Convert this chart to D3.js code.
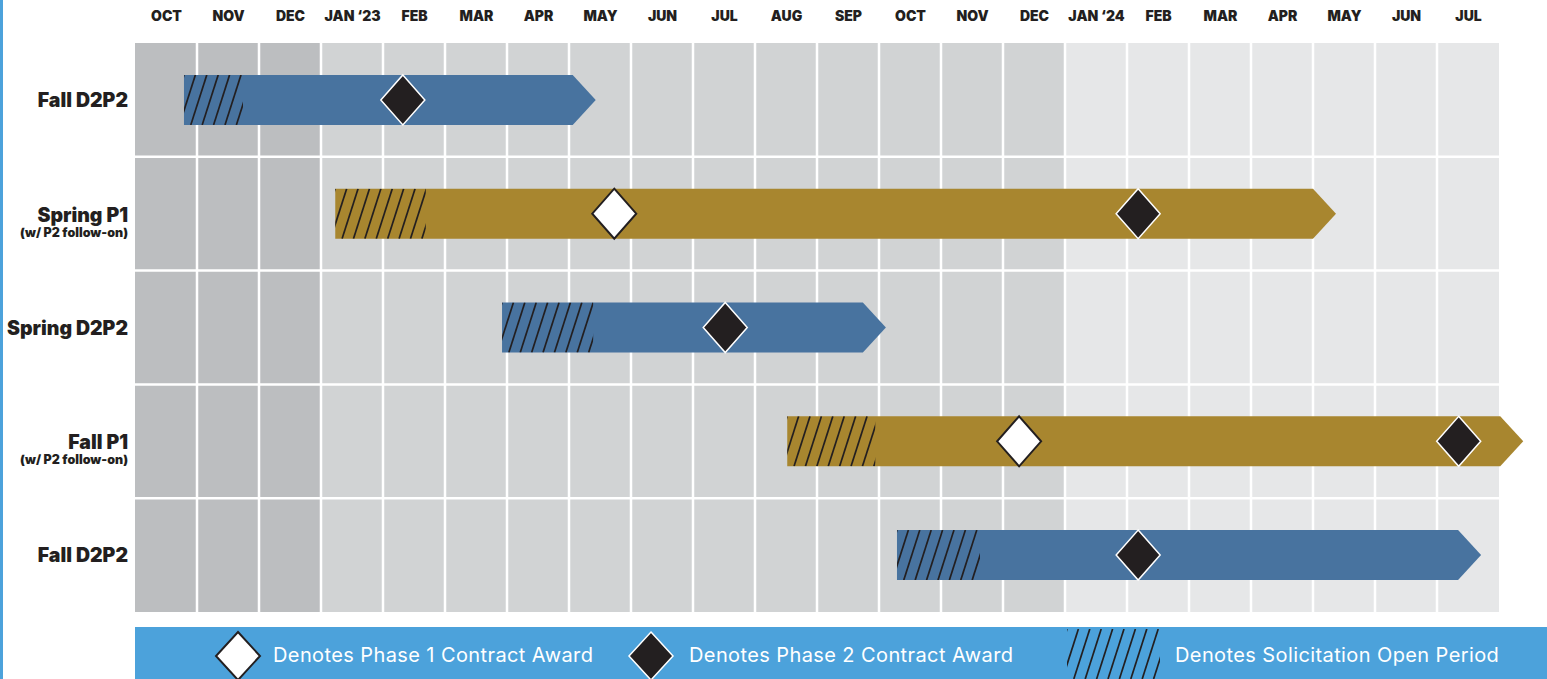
<!DOCTYPE html>
<html>
<head>
<meta charset="utf-8">
<script src="https://cdn.jsdelivr.net/npm/d3@7"></script>
<style>
  html, body { margin: 0; padding: 0; background: #fff; }
  svg { display: block; }
  .month text { font-family: Inter, "DejaVu Sans", sans-serif; font-weight: 900; font-size: 14px; fill: #231f20; }
  .row-label { font-family: Inter, "DejaVu Sans", sans-serif; font-weight: 900; fill: #231f20; }
  .legend-text { font-family: Inter, "Open Sans", sans-serif; font-weight: 400; font-size: 20px; letter-spacing: 0.4px; fill: #fff; }
</style>
</head>
<body>
<svg id="chart" width="1547" height="679"></svg>
<script>
// months shown across the top, Oct 2022 .. Jul 2024
const months = ["OCT", "NOV", "DEC", "JAN \u201823", "FEB", "MAR", "APR", "MAY", "JUN", "JUL", "AUG", "SEP",
                "OCT", "NOV", "DEC", "JAN \u201824", "FEB", "MAR", "APR", "MAY", "JUN", "JUL"];
const monthYears = [2022, 2022, 2022, 2023, 2023, 2023, 2023, 2023, 2023, 2023, 2023, 2023,
                    2023, 2023, 2023, 2024, 2024, 2024, 2024, 2024, 2024, 2024];

// programs (positions in months since Oct 1 2022)
const programs = ["Fall D2P2", "Spring P1", "Spring D2P2", "Fall P1", "Fall D2P2"];
const subtitles = ["", "(w/ P2 follow-on)", "", "(w/ P2 follow-on)", ""];
const kinds = ["D2P2", "P1", "D2P2", "P1", "D2P2"];
const starts = [0.79, 3.23, 5.92, 10.52, 12.29];
const solicitEnds = [1.74, 4.69, 7.39, 11.94, 13.63];
const ends = [7.06, 19.0, 11.74, 22.02, 21.34];
const phase1Awards = [null, 7.73, null, 14.26, null];
const phase2Awards = [4.32, 16.18, 9.52, 21.35, 16.18];

const legendLabels = ["Denotes Phase 1 Contract Award", "Denotes Phase 2 Contract Award", "Denotes Solicitation Open Period"];

const svg = d3.select("#chart");
const width = 1547, height = 679;
const margin = {top: 43, left: 135, right: 48, bottom: 67};

const x = d3.scaleLinear()
  .domain([0, months.length])
  .range([margin.left, width - margin.right]);

const y = d3.scaleBand()
  .domain(d3.range(programs.length))
  .range([margin.top, height - margin.bottom]);

const yearColor = d3.scaleOrdinal()
  .domain([2022, 2023, 2024])
  .range(["#bcbec0", "#d1d3d4", "#e6e7e8"]);

const kindColor = d3.scaleOrdinal()
  .domain(["D2P2", "P1"])
  .range(["#48739f", "#a8862f"]);

const dark = "#231f20";
const legendBlue = "#4ca2db";
const defs = svg.append("defs");

// draws slanted hatch lines clipped to a box
let clipId = 0;
function hatch(g, x0, y0, w, h) {
  const id = "clip" + (clipId++);
  defs.append("clipPath").attr("id", id)
    .append("rect").attr("x", x0).attr("y", y0).attr("width", w).attr("height", h);
  const step = 11.4, lean = h * 0.32;
  const xs = d3.range(x0 - lean, x0 + w + step, step);
  g.append("g")
    .attr("clip-path", `url(#${id})`)
    .selectAll("line")
    .data(xs)
    .join("line")
      .attr("x1", d => d).attr("y1", y0 + h)
      .attr("x2", d => d + lean).attr("y2", y0)
      .attr("stroke", dark)
      .attr("stroke-width", 1.7);
}

// left blue edge
svg.append("rect").attr("x", 0).attr("y", 0).attr("width", 3).attr("height", height).attr("fill", legendBlue);

// background columns
const colW = x(1) - x(0);
svg.append("g").selectAll("rect")
  .data(months)
  .join("rect")
    .attr("x", (d, i) => x(i))
    .attr("y", margin.top)
    .attr("width", colW)
    .attr("height", height - margin.bottom - margin.top)
    .attr("fill", (d, i) => yearColor(monthYears[i]));

// white grid lines
const grid = svg.append("g").attr("stroke", "#fff").attr("stroke-width", 2.5);
grid.selectAll("line.v")
  .data(d3.range(1, months.length))
  .join("line")
    .attr("class", "v")
    .attr("x1", d => x(d)).attr("x2", d => x(d))
    .attr("y1", margin.top).attr("y2", height - margin.bottom);
grid.selectAll("line.h")
  .data(d3.range(1, programs.length))
  .join("line")
    .attr("class", "h")
    .attr("x1", margin.left).attr("x2", width - margin.right)
    .attr("y1", d => y(d)).attr("y2", d => y(d));

// month axis
const xAxis = d3.axisTop(x)
  .tickValues(d3.range(months.length).map(i => i + 0.5))
  .tickFormat(d => months[Math.floor(d)])
  .tickSize(0)
  .tickPadding(0);
const xAxisG = svg.append("g")
  .attr("class", "month")
  .attr("transform", "translate(0,21)")
  .call(xAxis);
xAxisG.select(".domain").remove();

// bars
const barH = 50, arrow = 23;
const dw = 22, dh = 25;
const diamond = (w, h) => `M0,${-h}L${w},0L0,${h}L${-w},0Z`;

const rows = svg.append("g").selectAll("g")
  .data(programs)
  .join("g");

rows.each(function(d, i) {
  const g = d3.select(this);
  const cy = y(i) + y.bandwidth() / 2;
  const x0 = x(starts[i]), x1 = x(ends[i]);

  g.append("path")
    .attr("fill", kindColor(kinds[i]))
    .attr("d", `M${x0},${cy - barH / 2}H${x1}L${x1 + arrow},${cy}L${x1},${cy + barH / 2}H${x0}Z`);

  hatch(g, x0, cy - barH / 2, x(solicitEnds[i]) - x0, barH);

  if (phase1Awards[i] != null) {
    g.append("path")
      .attr("d", diamond(dw, dh))
      .attr("transform", `translate(${x(phase1Awards[i])},${cy})`)
      .attr("fill", "#fff")
      .attr("stroke", dark)
      .attr("stroke-width", 2);
  }
  if (phase2Awards[i] != null) {
    g.append("path")
      .attr("d", diamond(dw, dh))
      .attr("transform", `translate(${x(phase2Awards[i])},${cy})`)
      .attr("fill", dark)
      .attr("stroke", "#fff")
      .attr("stroke-width", 1.5);
  }

  // row labels
  g.append("text")
    .attr("class", "row-label")
    .attr("x", 128)
    .attr("y", cy + (subtitles[i] ? 8 : 7))
    .attr("text-anchor", "end")
    .attr("font-size", 19.5)
    .text(d);

  if (subtitles[i]) {
    g.append("text")
      .attr("class", "row-label")
      .attr("x", 128)
      .attr("y", cy + 23)
      .attr("text-anchor", "end")
      .attr("font-size", 12.5)
      .attr("font-weight", 800)
      .text(subtitles[i]);
  }
});

// legend
const legend = svg.append("g");
legend.append("rect")
  .attr("x", margin.left).attr("y", 627)
  .attr("width", width - margin.left).attr("height", height - 627)
  .attr("fill", legendBlue);

legend.append("path")
  .attr("d", diamond(22, 24))
  .attr("transform", "translate(238,656)")
  .attr("fill", "#fff").attr("stroke", dark).attr("stroke-width", 2);
legend.append("path")
  .attr("d", diamond(22, 24))
  .attr("transform", "translate(651,656)")
  .attr("fill", dark).attr("stroke", "#fff").attr("stroke-width", 1.5);
hatch(legend, 1067, 629, 93, 50);

legend.selectAll("text")
  .data(legendLabels)
  .join("text")
    .attr("class", "legend-text")
    .attr("x", (d, i) => [273, 689, 1175][i])
    .attr("y", 662)
    .text(d => d);
</script>
</body>
</html>
